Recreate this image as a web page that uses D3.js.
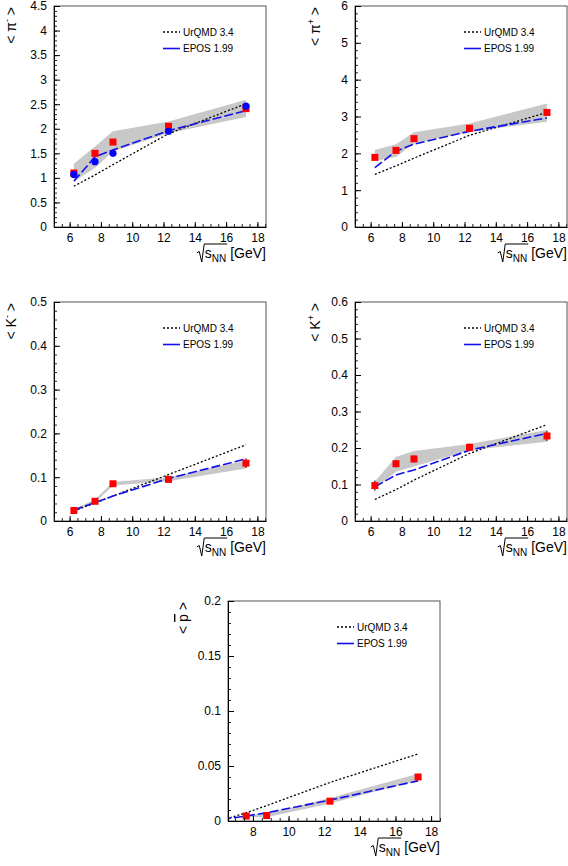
<!DOCTYPE html>
<html><head><meta charset="utf-8">
<script src="https://cdn.jsdelivr.net/npm/d3@7"></script>
<style>
html,body{margin:0;padding:0;background:#fff;}
svg{display:block;font-family:"Liberation Sans",Arial,sans-serif;}
</style></head>
<body>
<svg id="c" width="568" height="866"></svg>
<script>
// ---------- data ----------
const energies = [6.27, 7.62, 8.77, 12.32, 17.27];
const pbarEnergies = [7.62, 8.77, 12.32, 17.27];
const legendLabels = ["UrQMD 3.4", "EPOS 1.99"];

// <pi->
const piMinusData = [1.10, 1.50, 1.73, 2.05, 2.41];
const piMinusErr = [0.05, 0.05, 0.05, 0.05, 0.05];
const piMinusBlue = [1.07, 1.33, 1.50, 1.95, 2.46];
const piMinusBandLow = [0.93, 1.20, 1.54, 1.91, 2.24];
const piMinusBandHigh = [1.29, 1.64, 1.95, 2.15, 2.59];
const piMinusUrqmd = [0.83, 1.06, 1.27, 1.90, 2.51];
const piMinusEpos = [0.93, 1.43, 1.57, 1.96, 2.37];
const piMinusYTicks = [0, 0.5, 1, 1.5, 2, 2.5, 3, 3.5, 4, 4.5];

// <pi+>
const piPlusData = [1.89, 2.08, 2.40, 2.68, 3.11];
const piPlusErr = [0.06, 0.06, 0.06, 0.06, 0.06];
const piPlusBandLow = [1.79, 1.90, 2.27, 2.58, 2.86];
const piPlusBandHigh = [2.09, 2.25, 2.57, 2.81, 3.35];
const piPlusUrqmd = [1.43, 1.66, 1.87, 2.49, 3.11];
const piPlusEpos = [1.61, 2.06, 2.25, 2.60, 2.96];
const piPlusYTicks = [0, 1, 2, 3, 4, 5, 6];

// <K->
const kMinusData = [0.024, 0.045, 0.085, 0.095, 0.132];
const kMinusErr = [0.002, 0.003, 0.004, 0.004, 0.011];
const kMinusBandLow = [0.022, 0.042, 0.081, 0.091, 0.120];
const kMinusBandHigh = [0.027, 0.049, 0.089, 0.100, 0.138];
const kMinusUrqmd = [0.023, 0.041, 0.057, 0.106, 0.174];
const kMinusEpos = [0.025, 0.042, 0.057, 0.097, 0.142];
const kMinusYTicks = [0, 0.1, 0.2, 0.3, 0.4, 0.5];

// <K+>
const kPlusData = [0.097, 0.157, 0.170, 0.202, 0.233];
const kPlusErr = [0.014, 0.010, 0.010, 0.010, 0.014];
const kPlusBandLow = [0.089, 0.135, 0.149, 0.194, 0.217];
const kPlusBandHigh = [0.108, 0.176, 0.192, 0.211, 0.249];
const kPlusUrqmd = [0.059, 0.086, 0.112, 0.185, 0.264];
const kPlusEpos = [0.094, 0.126, 0.140, 0.194, 0.240];
const kPlusYTicks = [0, 0.1, 0.2, 0.3, 0.4, 0.5, 0.6];

// <pbar>
const pbarData = [0.0045, 0.005, 0.018, 0.040];
const pbarErr = [0.001, 0.001, 0.001, 0.002];
const pbarBandLow = [0.0035, 0.0035, 0.016, 0.037];
const pbarBandHigh = [0.0055, 0.0065, 0.021, 0.043];
const pbarUrqmd = [0.0008, 0.0075, 0.014, 0.035, 0.061];
const pbarEpos = [0.0015, 0.0045, 0.0075, 0.019, 0.0365];
const pbarYTicks = [0, 0.05, 0.1, 0.15, 0.2];

const xTicksFull = [6, 8, 10, 12, 14, 16, 18];
const xTicksPbar = [8, 10, 12, 14, 16, 18];

// ---------- panels ----------
const panels = [
  {id:"pm", box:{l:54,r:266,t:6,b:227}, xd:[5,18.55], yd:[0,4.5], yt:piMinusYTicks, ym:0.1, xt:xTicksFull,
   title:["< π", "-", " >"], titleX:16, dataE:energies, data:piMinusData, err:piMinusErr, blue:piMinusBlue,
   bandE:energies, lo:piMinusBandLow, hi:piMinusBandHigh, urq:piMinusUrqmd, epos:piMinusEpos},
  {id:"pp", box:{l:355,r:567,t:6,b:227}, xd:[5,18.55], yd:[0,6], yt:piPlusYTicks, ym:0.2, xt:xTicksFull,
   title:["< π", "+", " >"], titleX:320, dataE:energies, data:piPlusData, err:piPlusErr,
   bandE:energies, lo:piPlusBandLow, hi:piPlusBandHigh, urq:piPlusUrqmd, epos:piPlusEpos},
  {id:"km", box:{l:54,r:266,t:302,b:521}, xd:[5,18.55], yd:[0,0.5], yt:kMinusYTicks, ym:0.02, xt:xTicksFull,
   title:["< K", "-", " >"], titleX:16, dataE:energies, data:kMinusData, err:kMinusErr,
   bandE:energies, lo:kMinusBandLow, hi:kMinusBandHigh, urq:kMinusUrqmd, epos:kMinusEpos},
  {id:"kp", box:{l:355,r:567,t:302,b:521}, xd:[5,18.55], yd:[0,0.6], yt:kPlusYTicks, ym:0.02, xt:xTicksFull,
   title:["< K", "+", " >"], titleX:320, dataE:energies, data:kPlusData, err:kPlusErr,
   bandE:energies, lo:kPlusBandLow, hi:kPlusBandHigh, urq:kPlusUrqmd, epos:kPlusEpos},
  {id:"pb", box:{l:228,r:440,t:601,b:821}, xd:[6.6,18.5], yd:[0,0.2], yt:pbarYTicks, ym:0.01, xt:xTicksPbar,
   title:null, titleX:188, dataE:pbarEnergies, data:pbarData, err:pbarErr,
   bandE:pbarEnergies, lo:pbarBandLow, hi:pbarBandHigh, urq:pbarUrqmd, epos:pbarEpos}
];

const svg = d3.select("#c");
svg.append("rect").attr("width",568).attr("height",866).attr("fill","#fff");
const fmt = d => String(+d.toFixed(3));

panels.forEach(p => {
  const {l,r,t,b} = p.box;
  const x = d3.scaleLinear().domain(p.xd).range([l,r]);
  const y = d3.scaleLinear().domain(p.yd).range([b,t]);
  const g = svg.append("g");

  const clipId = "clip-"+p.id;
  g.append("clipPath").attr("id",clipId).append("rect")
    .attr("x",l).attr("y",t).attr("width",r-l).attr("height",b-t);
  const plot = g.append("g").attr("clip-path",`url(#${clipId})`);

  // band
  const bandPts = p.bandE.map((e,i)=>({e, lo:p.lo[i], hi:p.hi[i]}));
  plot.append("path").datum(bandPts)
    .attr("d", d3.area().x(d=>x(d.e)).y0(d=>y(d.lo)).y1(d=>y(d.hi)))
    .attr("fill","#c8c8c8").attr("stroke","none");

  // UrQMD
  plot.append("path").datum(energies.map((e,i)=>[e,p.urq[i]]))
    .attr("d", d3.line().x(d=>x(d[0])).y(d=>y(d[1])))
    .attr("fill","none").attr("stroke","#000").attr("stroke-width",1.3).attr("stroke-dasharray","2,2");
  // EPOS
  plot.append("path").datum(energies.map((e,i)=>[e,p.epos[i]]))
    .attr("d", d3.line().x(d=>x(d[0])).y(d=>y(d[1])))
    .attr("fill","none").attr("stroke","#1010ee").attr("stroke-width",1.6).attr("stroke-dasharray","9,3");

  // error bars
  const pts = p.dataE.map((e,i)=>({e, v:p.data[i], err:p.err[i]}));
  plot.selectAll(".eb").data(pts).enter().append("line")
    .attr("x1",d=>x(d.e)).attr("x2",d=>x(d.e))
    .attr("y1",d=>y(d.v-d.err)).attr("y2",d=>y(d.v+d.err))
    .attr("stroke","#000").attr("stroke-width",1);
  // red squares
  plot.selectAll(".sq").data(pts).enter().append("rect")
    .attr("x",d=>x(d.e)-3.5).attr("y",d=>y(d.v)-3.5).attr("width",7).attr("height",7)
    .attr("fill","#ff0000");
  // blue circles
  if (p.blue) {
    plot.selectAll(".ci").data(p.blue.map((v,i)=>({e:energies[i], v})))
      .enter().append("circle")
      .attr("cx",d=>x(d.e)).attr("cy",d=>y(d.v)).attr("r",3.6).attr("fill","#0000ff");
  }

  // frame
  g.append("rect").attr("x",l).attr("y",t).attr("width",r-l).attr("height",b-t)
    .attr("fill","none").attr("stroke","#555").attr("stroke-width",1);

  // y axis
  const yMinor = d3.range(p.yd[0], p.yd[1]+p.ym/2, p.ym);
  g.append("g").attr("transform",`translate(${l},0)`)
    .call(d3.axisLeft(y).tickValues(yMinor).tickSize(-3).tickSizeOuter(0).tickFormat(""))
    .call(a=>a.select(".domain").remove())
    .call(a=>a.selectAll("line").attr("stroke","#222"));
  g.append("g").attr("transform",`translate(${l},0)`)
    .call(d3.axisLeft(y).tickValues(p.yt).tickSize(-6).tickSizeOuter(0).tickPadding(7).tickFormat(fmt))
    .call(a=>a.select(".domain").attr("stroke","#000"))
    .call(a=>a.selectAll("text").attr("font-size",12).attr("fill","#000")
         .attr("font-family","Liberation Sans, Arial, sans-serif"));

  // x axis
  const xMinor = d3.range(Math.ceil(p.xd[0]*2)/2, p.xd[1]+0.001, 0.5);
  g.append("g").attr("transform",`translate(0,${b})`)
    .call(d3.axisBottom(x).tickValues(xMinor).tickSize(-3).tickSizeOuter(0).tickFormat(""))
    .call(a=>a.select(".domain").remove())
    .call(a=>a.selectAll("line").attr("stroke","#222"));
  g.append("g").attr("transform",`translate(0,${b})`)
    .call(d3.axisBottom(x).tickValues(p.xt).tickSize(-5).tickSizeOuter(0).tickPadding(6).tickFormat(fmt))
    .call(a=>a.select(".domain").attr("stroke","#000"))
    .call(a=>a.selectAll("text").attr("font-size",12).attr("fill","#000")
         .attr("font-family","Liberation Sans, Arial, sans-serif"));

  // x title: sqrt(s_NN) [GeV]
  const base = b + 31;
  const xt = g.append("g");
  const tG = xt.append("text").attr("font-size",14).attr("y",base).text("[GeV]");
  const wG = tG.node().getComputedTextLength();
  const tS = xt.append("text").attr("font-size",14).attr("y",base).text("s");
  const wS = tS.node().getComputedTextLength();
  const tN = xt.append("text").attr("font-size",10).attr("y",base+4).text("NN");
  const wN = tN.node().getComputedTextLength();
  const radW = 8, gap = 4;
  const x0 = r - (radW + wS + wN + gap + wG);
  tG.attr("x", r - wG);
  tS.attr("x", x0 + radW);
  tN.attr("x", x0 + radW + wS);
  xt.append("path")
    .attr("d", `M${x0},${base-5} L${x0+2.5},${base-6.5} L${x0+5},${base+4} L${x0+7.5},${base-14} L${x0+radW+wS+wN+1},${base-14}`)
    .attr("fill","none").attr("stroke","#000").attr("stroke-width",1);

  // y title
  const yt = g.append("text").attr("transform",`translate(${p.titleX},${t+1}) rotate(-90)`)
    .attr("text-anchor","end").attr("font-size",14);
  if (p.title) {
    yt.append("tspan").text(p.title[0]);
    yt.append("tspan").attr("font-size",9).attr("dy",-6).text(p.title[1]);
    yt.append("tspan").attr("dy",6).text(p.title[2]);
  } else {
    yt.append("tspan").text("< ");
    yt.append("tspan").style("text-decoration","overline").text("p");
    yt.append("tspan").text(" >");
  }

  // legend
  const lx = l + 109, ly1 = t + 26, ly2 = t + 42.5;
  g.append("line").attr("x1",lx).attr("x2",lx+17).attr("y1",ly1).attr("y2",ly1)
    .attr("stroke","#000").attr("stroke-width",1.3).attr("stroke-dasharray","2,2");
  g.append("line").attr("x1",lx).attr("x2",lx+17).attr("y1",ly2).attr("y2",ly2)
    .attr("stroke","#1010ee").attr("stroke-width",1.6);
  g.append("text").attr("x",lx+20).attr("y",ly1).attr("dy","0.35em").attr("font-size",10).text(legendLabels[0]);
  g.append("text").attr("x",lx+20).attr("y",ly2).attr("dy","0.35em").attr("font-size",10).text(legendLabels[1]);
});
</script>
</body></html>
